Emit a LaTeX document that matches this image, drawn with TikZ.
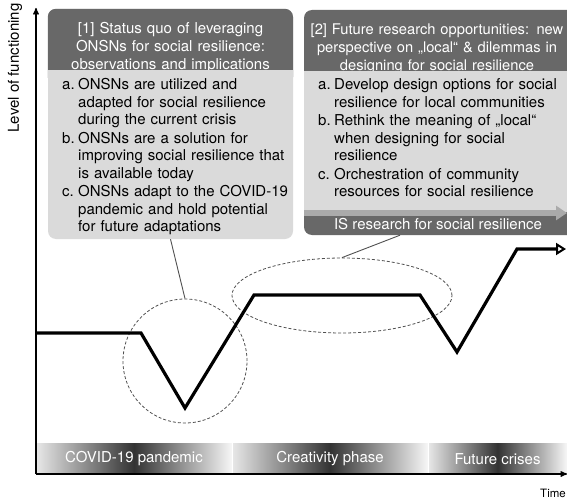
\documentclass[tikz,border=0pt]{standalone}
\usepackage{fontspec}
\setmainfont{TeX Gyre Heros}
\usepackage{tikz}
\usetikzlibrary{arrows, arrows.meta, shapes.geometric}
\definecolor{headgray}{RGB}{104,104,104}
\definecolor{bodygray}{RGB}{218,218,218}
\definecolor{bandgray}{RGB}{170,170,170}
\definecolor{ringgray}{RGB}{80,80,80}
\pgfdeclarehorizontalshading{phaseshade}{100bp}{color(0bp)=(gray!18); color(25bp)=(gray!18); color(50bp)=(black!80); color(75bp)=(gray!6); color(100bp)=(gray!6)}
\newcommand{\pitem}[2]{\par\noindent\strut\makebox[16pt][l]{#1}\parbox[t]{228pt}{\raggedright #2\strut}\par}

\tikzset{
  panel/.style={rounded corners=8pt, inner sep=0pt},
  boxhead/.style={text=white, align=center, inner sep=0pt, font=\fontsize{15}{18}\selectfont},
  boxbody/.style={anchor=north west, text width=245pt, inner sep=0pt, font=\fontsize{15}{17.5}\selectfont},
  phase/.style={text=white, inner sep=0pt, font=\fontsize{15}{18}\selectfont},
  ring/.style={draw=ringgray, line width=0.8pt, dash pattern=on 3pt off 2pt, inner sep=0pt},
}

\begin{document}
\begin{tikzpicture}[x=1pt, y=-1pt, >=stealth']
    \useasboundingbox (0,0) rectangle (567,500);
    \clip (0,0) rectangle (567,500);
    \coordinate (O) at (36,474);

    % box [1]
    \node[panel, fill=bodygray, minimum width=245pt, minimum height=230pt] (status) at (170.5,124) {};
    \fill[headgray, rounded corners=8pt] (status.north west) rectangle (293,85);
    \node[boxhead, text width=240pt] (statushead) at (170.5,48) {[1] Status quo of leveraging\\ONSNs for social resilience:\\observations and implications};
    \fill[bodygray] (48,70) rectangle (293,90);
    \node[boxbody] (statusbody) at (62,72) {
        \pitem{a.}{ONSNs are utilized and\\adapted for social resilience\\during the current crisis}
        \pitem{b.}{ONSNs are a solution for\\improving social resilience that\\is available today}
        \pitem{c.}{ONSNs adapt to the COVID-19\\pandemic and hold potential\\for future adaptations}};

    % box [2]
    \node[panel, fill=headgray, minimum width=278pt, minimum height=225pt] (future) at (443,122.5) {};
    \node[boxhead, text width=270pt, font=\fontsize{14.7}{18}\selectfont] (futurehead) at (437,48.5) {[2] Future research opportunities: new\\perspective on „local“ \& dilemmas in\\designing for social resilience};
    \fill[bodygray] (304,71) rectangle (582,212);
    \draw[bandgray, line width=5.5pt, -{Triangle[length=11pt, width=14pt]}] (304,213) -- (567,213);
    \node[boxbody] (futurebody) at (318,72) {
        \pitem{a.}{Develop design options for social\\resilience for local communities}
        \pitem{b.}{Rethink the meaning of „local“\\when designing for social\\resilience}
        \pitem{c.}{Orchestration of community\\resources for social resilience}};
    \node[boxhead] (isres) at (438,224) {IS research for social resilience};

    % highlighted regions
    \node[ring, circle, minimum size=124pt] (dip) at (185,361) {};
    \node[ring, ellipse, minimum width=220pt, minimum height=75pt] (plateau) at (342,295.5) {};
    \draw[ringgray, line width=0.9pt] (status.south) -- (dip.north);
    \draw[ringgray, line width=0.9pt] ([xshift=-43pt]future.south) -- (plateau.north);

    % phases
    \begin{scope}[y=1pt]
    \foreach \xa/\xb in {36/232, 232/428, 428/567}
        \shade[shading=phaseshade] (\xa,-443) rectangle (\xb,-474);
    \end{scope}
    \foreach \xa/\xb/\lbl [count=\i] in {36/232/COVID-19 pandemic, 232/428/Creativity phase, 428/567/Future crises}
        \node[phase] (phase\i) at ({(\xa+\xb)/2},459) {\lbl};
    \draw[white, line width=1pt] (232,443) -- (232,474);
    \draw[white, line width=1pt] (428,443) -- (428,474);

    % level of functioning
    \draw[line width=3.2pt, line join=miter, -{Triangle[open, length=10pt, width=12pt, line width=2pt]}]
        (36,333) -- (141,333) -- (185,408) -- (254,295) -- (420,295) -- (457,352) -- (517,249) -- (566,249);

    % axes
    \draw[->, line width=1.3pt] (O) -- (36,8);
    \draw[->, line width=1.3pt] (O) -- (567,474);
    \node[rotate=90, font=\fontsize{15}{18}\selectfont] (ylabel) at (15,68) {Level of functioning};
    \node[font=\fontsize{11.5}{14}\selectfont] (xlabel) at (553,493) {Time};
\end{tikzpicture}
\end{document}
